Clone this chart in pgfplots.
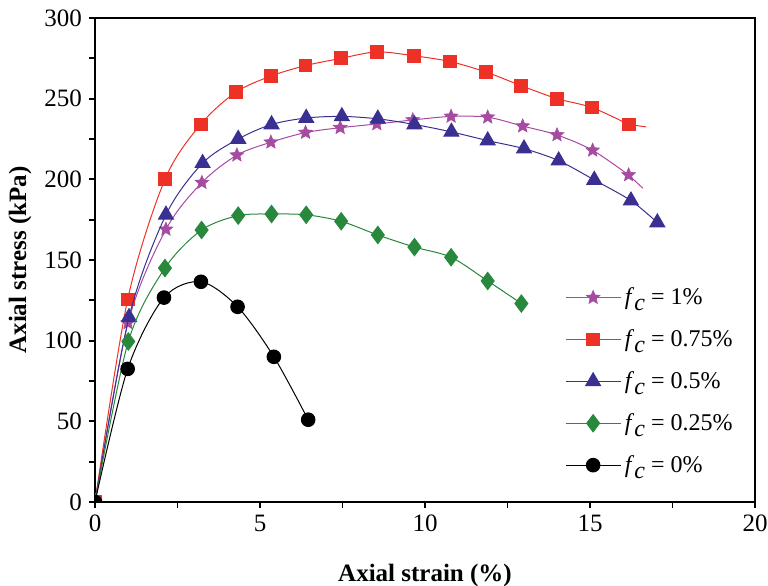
\documentclass[border=0pt]{standalone}
\usepackage{fontspec}
\setmainfont{Liberation Serif}
\usepackage{pgfplots}
\pgfplotsset{compat=1.18}

\definecolor{cRed}{RGB}{238,49,38}
\definecolor{cBlue}{RGB}{57,48,145}
\definecolor{cPurple}{RGB}{165,75,160}
\definecolor{cGreen}{RGB}{40,136,60}

\newcommand{\fc}{\textit{f}\raisebox{-0.55ex}{\textit{c}}}

% filled five-pointed star
\pgfdeclareplotmark{fstar}{%
  \pgfpathmoveto{\pgfpointpolar{90}{\pgfplotmarksize}}%
  \pgfpathlineto{\pgfpointpolar{126}{0.45\pgfplotmarksize}}%
  \pgfpathlineto{\pgfpointpolar{162}{\pgfplotmarksize}}%
  \pgfpathlineto{\pgfpointpolar{198}{0.45\pgfplotmarksize}}%
  \pgfpathlineto{\pgfpointpolar{234}{\pgfplotmarksize}}%
  \pgfpathlineto{\pgfpointpolar{270}{0.45\pgfplotmarksize}}%
  \pgfpathlineto{\pgfpointpolar{306}{\pgfplotmarksize}}%
  \pgfpathlineto{\pgfpointpolar{342}{0.45\pgfplotmarksize}}%
  \pgfpathlineto{\pgfpointpolar{18}{\pgfplotmarksize}}%
  \pgfpathlineto{\pgfpointpolar{54}{0.45\pgfplotmarksize}}%
  \pgfpathclose
  \pgfusepathqfillstroke
}

\begin{document}
\begin{tikzpicture}
\begin{axis}[
    scale only axis,
    width=330pt, height=242pt,
    xmin=0, xmax=20, ymin=0, ymax=300,
    xtick={0,5,...,20}, ytick={0,50,...,300},
    minor x tick num=1, minor y tick num=1,
    xtick pos=left, ytick pos=left,
    tick align=outside,
    major tick length=3pt, minor tick length=3pt,
    axis line style={line width=1.2pt},
    every tick/.style={black, line width=0.9pt},
    tick label style={font=\fontsize{12.5}{14}\selectfont},
    /pgf/number format/assume math mode=true,
    xlabel={\textbf{Axial strain (\%)}},
    ylabel={\textbf{Axial stress (kPa)}},
    label style={font=\fontsize{12.5}{14}\selectfont},
    xlabel style={at={(axis description cs:0.5,0)}, anchor=center, yshift=-36.5pt},
    ylabel style={at={(axis description cs:0,0.5)}, anchor=center, yshift=37.5pt},
    clip marker paths=true,
    legend style={draw=none, fill=none, at={(0.712,0.452)}, anchor=north west,
        font=\fontsize{12}{14}\selectfont, row sep=7pt, inner sep=0pt},
    legend cell align=left,
    legend image code/.code={\draw[mark repeat=2, mark phase=2] plot coordinates {(0cm,0cm) (0.48cm,0cm) (0.96cm,0cm)};},
]
\coordinate (sw) at (rel axis cs:0,0);
\coordinate (ne) at (rel axis cs:1,1);

% f_c = 1%
\addplot[cPurple, line width=0.5pt, smooth, tension=0.5,
    mark=fstar, mark size=3.6pt, mark options={fill=cPurple, line width=0.3pt}]
    coordinates {(0,0)(1.0,111)(2.15,169)(3.24,198)(4.3,215)(5.33,223)(6.38,229)
    (7.43,232)(8.54,234.3)(9.63,236.8)(10.79,239)(11.9,238.5)(12.96,233)(14.0,227.5)
    (15.08,218)(16.17,202.7)};
\addlegendentry{\fc{} = 1\%}
\addplot[cPurple, line width=0.5pt, forget plot] coordinates {(16.17,202.7)(16.6,194.5)};

% f_c = 0.75%
\addplot[cRed, line width=0.5pt, smooth, tension=0.5,
    mark=square*, mark size=3.2pt, mark options={fill=cRed}]
    coordinates {(0,0)(0.99,125.5)(2.12,200)(3.2,234)(4.27,254)(5.33,264)(6.38,270.5)
    (7.46,275)(8.54,279)(9.66,276.6)(10.76,273)(11.85,266.5)(12.92,258)(14.0,250)
    (15.06,244.5)(16.17,234)};
\addlegendentry{\fc{} = 0.75\%}
\addplot[cRed, line width=0.5pt, forget plot] coordinates {(16.17,234)(16.7,232.5)};

% f_c = 0.5%
\addplot[cBlue, line width=0.5pt, smooth, tension=0.5,
    mark=triangle*, mark size=4.3pt, mark options={fill=cBlue}]
    coordinates {(0,0)(1.03,114.5)(2.15,178)(3.26,210)(4.34,225)(5.35,234)(6.4,238)
    (7.48,239)(8.57,237.5)(9.68,234)(10.8,229.4)(11.9,224)(13.0,219)(14.05,211.6)
    (15.13,199.6)(16.24,186.8)(17.04,173.2)};
\addlegendentry{\fc{} = 0.5\%}

% f_c = 0.25%
\addplot[cGreen, line width=0.5pt, smooth, tension=0.5,
    mark=diamond*, mark size=4.3pt, mark options={fill=cGreen}]
    coordinates {(0,0)(1.01,99.5)(2.12,145)(3.23,168.6)(4.34,177.5)(5.35,178.5)(6.4,178)
    (7.46,174)(8.57,165.5)(9.68,158)(10.79,151.7)(11.9,137)(12.92,123)};
\addlegendentry{\fc{} = 0.25\%}

% f_c = 0%
\addplot[black, line width=0.5pt, smooth, tension=0.5,
    mark=*, mark size=3.4pt, mark options={fill=black}]
    coordinates {(0,0)(0.99,82.5)(2.09,126.7)(3.21,136.5)(4.32,121)(5.42,90)(6.46,51)};
\addlegendentry{\fc{} = 0\%}
\end{axis}
\pgfresetboundingbox
\path[use as bounding box] ([shift={(-47.5pt,-42pt)}]sw) rectangle ([shift={(6.5pt,9pt)}]ne);
\end{tikzpicture}
\end{document}
